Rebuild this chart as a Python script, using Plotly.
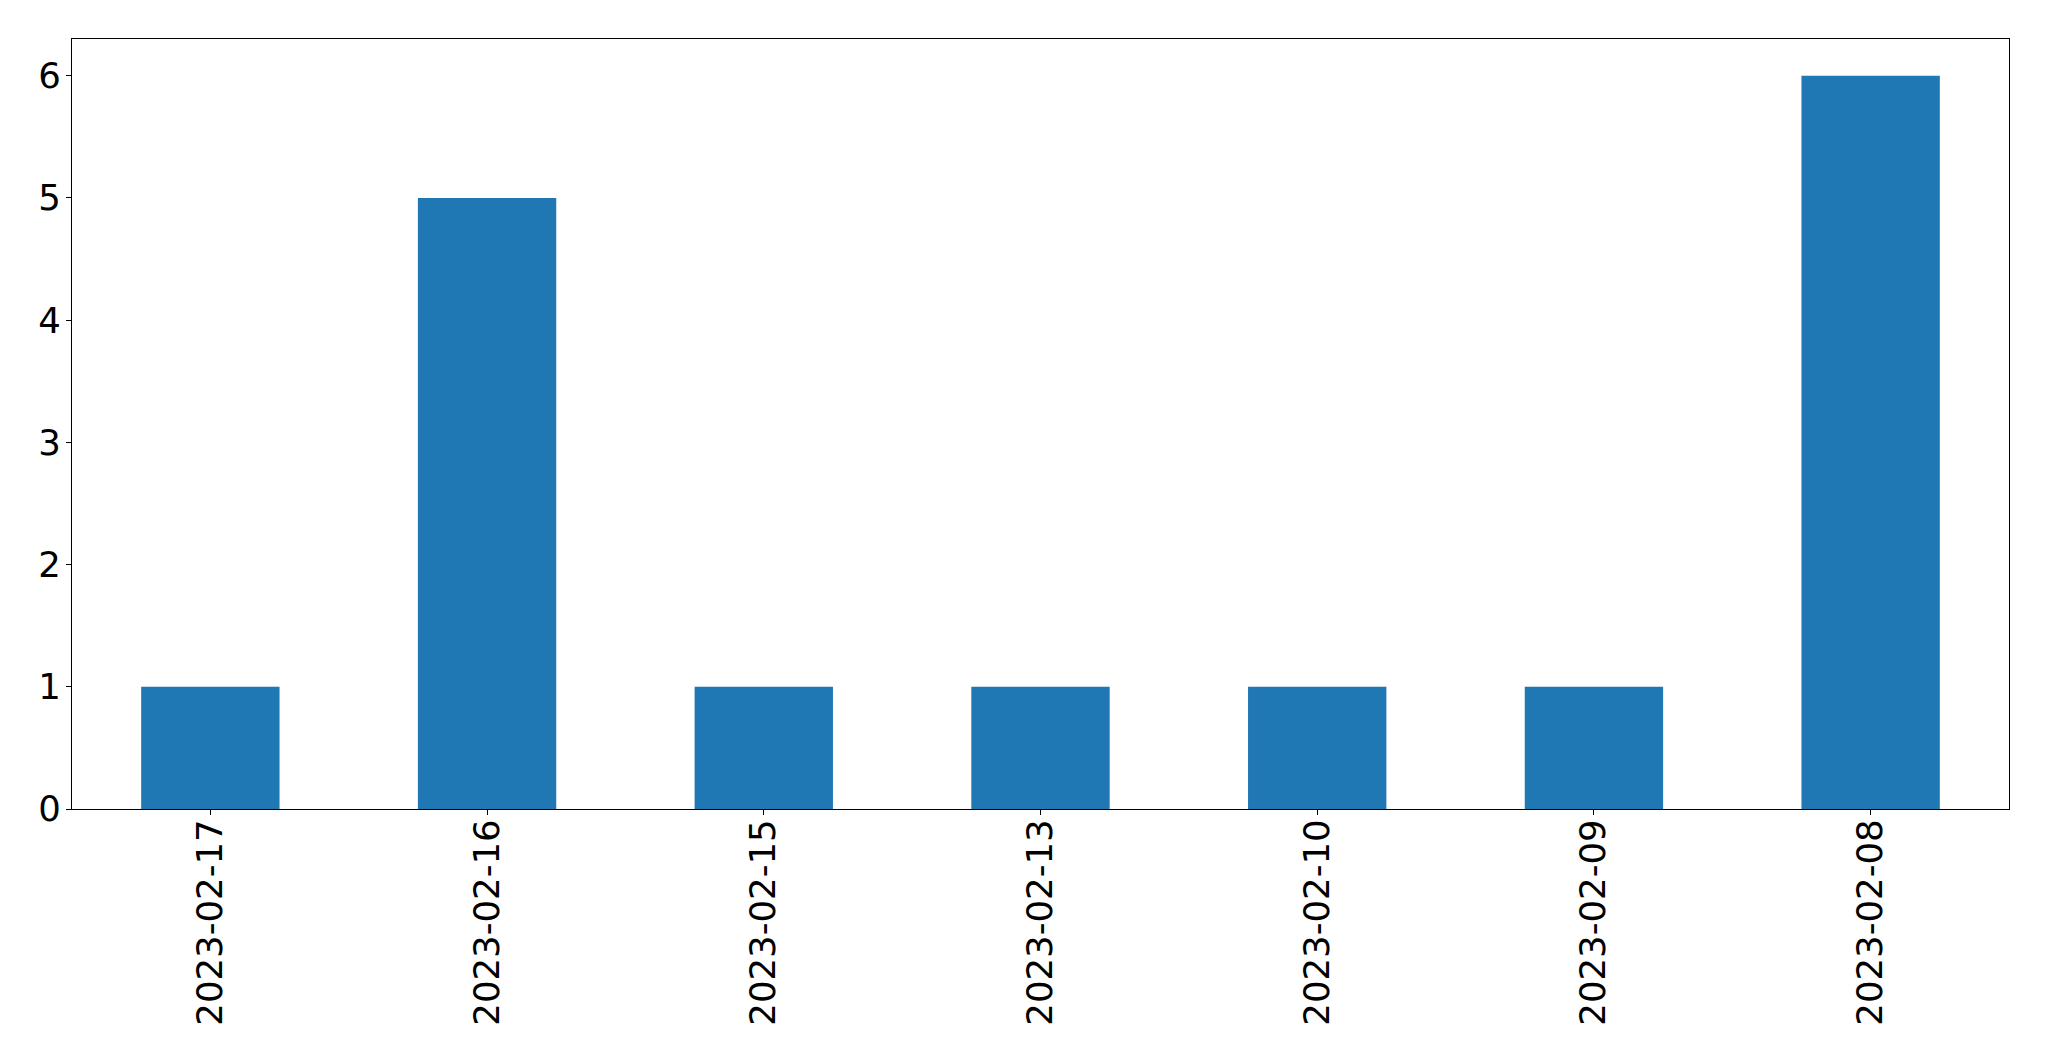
import plotly.graph_objects as go

categories = ["2023-02-17", "2023-02-16", "2023-02-15", "2023-02-13", "2023-02-10", "2023-02-09", "2023-02-08"]
values = [1, 5, 1, 1, 1, 1, 6]
y_ticks = [0, 1, 2, 3, 4, 5, 6]

fig = go.Figure(go.Bar(x=categories, y=values, marker=dict(color="#1f77b4", line=dict(width=0)), width=0.5))

fig.update_layout(
    width=2041, height=1053,
    margin=dict(l=64, r=40, t=31, b=252, autoexpand=False),
    paper_bgcolor="white", plot_bgcolor="white",
    font=dict(family="DejaVu Sans", size=35.5, color="black"),
    showlegend=False,
)
fig.update_xaxes(
    type="category", range=[-0.5, 6.5], tickangle=-90,
    showline=True, linecolor="black", linewidth=1.3, mirror=True,
    ticks="outside", ticklen=5, tickcolor="black", tickwidth=1.3,
    showgrid=False, zeroline=False, ticklabelstandoff=-10, automargin=False,
)
fig.update_yaxes(
    range=[0, 6.3], tickvals=y_ticks,
    showline=True, linecolor="black", linewidth=1.3, mirror=True,
    ticks="outside", ticklen=5, tickcolor="black", tickwidth=1.3,
    showgrid=False, zeroline=False, ticklabelstandoff=-2, automargin=False,
)
fig.write_html("out.html")
